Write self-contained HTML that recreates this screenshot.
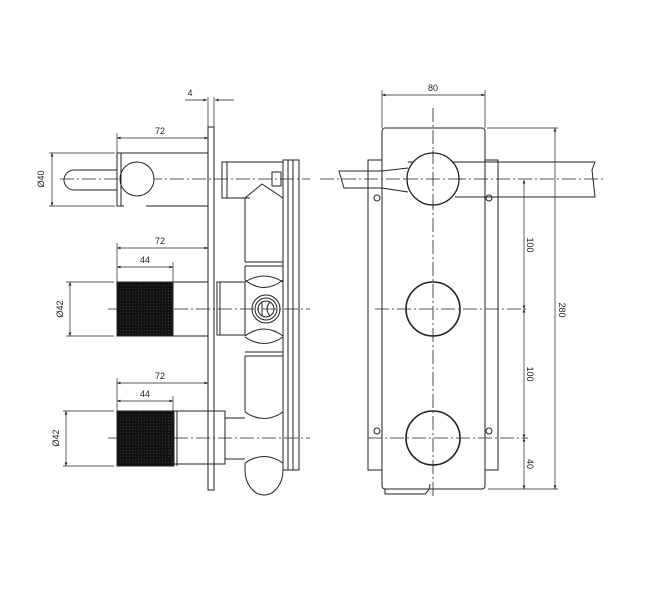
<!DOCTYPE html>
<html><head><style>body{margin:0;background:#fff}svg{display:block}text{font-family:"Liberation Sans",sans-serif;font-size:9px;fill:#222}</style></head>
<body>
<svg width="657" height="600" viewBox="0 0 657 600" xmlns="http://www.w3.org/2000/svg">
<defs>
<marker id="a" viewBox="0 0 10 10" refX="10" refY="5" markerWidth="7" markerHeight="5" orient="auto-start-reverse"><path d="M0,1 L10,5 L0,9z" fill="#222"/></marker>
<pattern id="k" width="3" height="3" patternUnits="userSpaceOnUse"><rect width="3" height="3" fill="#111"/><rect width="1" height="1" fill="#333"/></pattern>
</defs>
<g fill="none" stroke="#222" stroke-width="1">
<!-- front view base -->
<rect x="368" y="160" width="130" height="310"/>
<rect x="382" y="128" width="103" height="361" rx="3" fill="#fff"/>
<!-- centerlines -->
<g stroke-dasharray="14,3,2,3" stroke-width="0.8">
<line x1="60" y1="179" x2="310" y2="179"/><line x1="108" y1="309" x2="310" y2="309"/><line x1="108" y1="438" x2="310" y2="438"/>
<line x1="320" y1="179" x2="604" y2="179"/><line x1="375" y1="309" x2="528" y2="309"/><line x1="368" y1="438" x2="528" y2="438"/>
<line x1="433" y1="108" x2="433" y2="498"/>
</g>
<!-- wall plate -->
<rect x="208" y="127" width="6" height="363"/>
<!-- top handle side -->
<path d="M208,153 H117 V206 H124"/><path d="M146,206 H208"/>
<path d="M117,170 H74 A10,10 0 0 0 74,190 H117"/>
<circle cx="137" cy="179" r="17" fill="#fff"/>
<line x1="121" y1="153" x2="121" y2="206"/>
<!-- top body -->
<path d="M283,162 H222 V198 H250"/><line x1="227" y1="162" x2="227" y2="198"/>
<rect x="272" y="172" width="9" height="14"/>
<!-- flange -->
<rect x="283" y="160" width="16" height="310"/><line x1="288" y1="160" x2="288" y2="470"/><line x1="293" y1="160" x2="293" y2="470"/>
<!-- column -->
<path d="M245,198 L262,184 L283,198"/><line x1="245" y1="198" x2="245" y2="262"/>
<path d="M245,262 H283 M245,266 H283"/>
<path d="M245,266 V280 Q264,295 283,280"/><path d="M245,282 Q264,270 283,282"/>
<path d="M245,337 Q264,350 283,337"/><path d="M245,336 Q264,322 283,336"/>
<path d="M245,352 H283 M245,356 H283"/>
<line x1="245" y1="356" x2="245" y2="412"/>
<path d="M245,412 Q264,425 283,412"/>
<path d="M245,463 Q264,450 283,463"/><line x1="245" y1="463" x2="245" y2="470"/><line x1="283" y1="463" x2="283" y2="470"/>
<path d="M245,470 A19,25 0 0 0 283,470"/>
<!-- middle -->
<rect x="217" y="282" width="28" height="53"/><line x1="220" y1="282" x2="220" y2="335"/>
<circle cx="266" cy="309" r="14"/><circle cx="266" cy="309" r="11"/><circle cx="266" cy="309" r="8"/>
<line x1="262" y1="302" x2="262" y2="316"/><path d="M270,302 Q264,309 270,316"/>
<rect x="117" y="282" width="56" height="54" fill="url(#k)"/>
<path d="M173,282 H208 M173,336 H208"/>
<!-- bottom -->
<rect x="117" y="411" width="57" height="55" fill="url(#k)"/>
<path d="M174,411 Q164,438 174,466"/>
<path d="M174,411 H225 V464 H174"/><line x1="177" y1="411" x2="177" y2="466"/>
<path d="M225,418 H245 M225,459 H245"/>
<!-- dims left -->
<g stroke-width="0.7">
<line x1="185" y1="100" x2="207" y2="100" marker-end="url(#a)"/><line x1="234" y1="100" x2="215" y2="100" marker-end="url(#a)"/>
<line x1="208" y1="97" x2="208" y2="127"/><line x1="214" y1="97" x2="214" y2="127"/>
<line x1="117" y1="138" x2="208" y2="138" marker-start="url(#a)" marker-end="url(#a)"/><line x1="117" y1="133" x2="117" y2="153"/>
<line x1="52" y1="153" x2="52" y2="206" marker-start="url(#a)" marker-end="url(#a)"/><line x1="49" y1="153" x2="115" y2="153"/><line x1="49" y1="206" x2="115" y2="206"/>
<line x1="117" y1="248" x2="208" y2="248" marker-start="url(#a)" marker-end="url(#a)"/><line x1="117" y1="243" x2="117" y2="282"/>
<line x1="117" y1="267" x2="173" y2="267" marker-start="url(#a)" marker-end="url(#a)"/><line x1="173" y1="262" x2="173" y2="282"/>
<line x1="70" y1="282" x2="70" y2="336" marker-start="url(#a)" marker-end="url(#a)"/><line x1="66" y1="282" x2="114" y2="282"/><line x1="66" y1="336" x2="114" y2="336"/>
<line x1="117" y1="383" x2="208" y2="383" marker-start="url(#a)" marker-end="url(#a)"/><line x1="117" y1="378" x2="117" y2="411"/>
<line x1="117" y1="401" x2="173" y2="401" marker-start="url(#a)" marker-end="url(#a)"/><line x1="173" y1="396" x2="173" y2="411"/>
<line x1="66" y1="411" x2="66" y2="466" marker-start="url(#a)" marker-end="url(#a)"/><line x1="63" y1="411" x2="114" y2="411"/><line x1="63" y1="466" x2="114" y2="466"/>
</g>
<!-- front view details -->
<path d="M385,489 V494 H425 Q430,490 430,484"/>
<path d="M408,162 H595 L592,170 L595,197 H455"/>
<path d="M408,168 L382,171 H339 L344,188 H382 L408,192"/>
<circle cx="433" cy="179" r="26" fill="#fff" stroke-width="1.3"/>
<line x1="433" y1="150" x2="433" y2="208" stroke-width="0.8" stroke-dasharray="14,3,2,3"/>
<line x1="404" y1="179" x2="462" y2="179" stroke-width="0.8" stroke-dasharray="14,3,2,3"/>
<circle cx="433" cy="309" r="27" stroke-width="1.6"/><circle cx="433" cy="438" r="27" stroke-width="1.6"/>
<circle cx="377" cy="198" r="3"/><circle cx="489" cy="198" r="3"/><circle cx="377" cy="431" r="3"/><circle cx="489" cy="431" r="3"/>
<g stroke-width="0.7">
<line x1="382" y1="95" x2="485" y2="95" marker-start="url(#a)" marker-end="url(#a)"/><line x1="382" y1="90" x2="382" y2="128"/><line x1="485" y1="90" x2="485" y2="128"/>
<line x1="487" y1="128" x2="558" y2="128"/><line x1="488" y1="489" x2="558" y2="489"/>
<line x1="555" y1="128" x2="555" y2="489" marker-start="url(#a)" marker-end="url(#a)"/>
<line x1="524" y1="180" x2="524" y2="309" marker-start="url(#a)" marker-end="url(#a)"/>
<line x1="524" y1="309" x2="524" y2="438" marker-start="url(#a)" marker-end="url(#a)"/>
<line x1="524" y1="438" x2="524" y2="489" marker-start="url(#a)" marker-end="url(#a)"/>
</g>
</g>
<text x="190" y="96" text-anchor="middle">4</text>
<text x="160" y="134" text-anchor="middle">72</text>
<text x="160" y="244" text-anchor="middle">72</text>
<text x="145" y="263" text-anchor="middle">44</text>
<text x="160" y="379" text-anchor="middle">72</text>
<text x="145" y="397" text-anchor="middle">44</text>
<text x="433" y="91" text-anchor="middle">80</text>
<text transform="translate(44,179) rotate(-90)" text-anchor="middle">Ø40</text>
<text transform="translate(63,309) rotate(-90)" text-anchor="middle">Ø42</text>
<text transform="translate(59,438) rotate(-90)" text-anchor="middle">Ø42</text>
<text transform="translate(527,245) rotate(90)" text-anchor="middle">100</text>
<text transform="translate(527,374) rotate(90)" text-anchor="middle">100</text>
<text transform="translate(527,464) rotate(90)" text-anchor="middle">40</text>
<text transform="translate(559,310) rotate(90)" text-anchor="middle">280</text>
</svg>
</body></html>
